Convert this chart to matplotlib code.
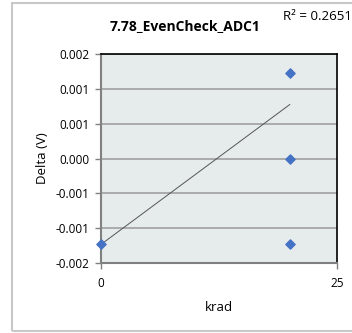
import matplotlib.pyplot as plt
from matplotlib.patches import Rectangle

plt.rcParams['font.family'] = ['Open Sans', 'DejaVu Sans']

# data
krad = [0, 20, 20, 20]
delta = [-0.00148, 0.00148, 0.0, -0.00148]
trend_x = [0, 20]
trend_y = [-0.00148, 0.00093]
r2_text = 'R² = 0.2651'
yticks = [-0.0018, -0.0012, -0.0006, 0.0, 0.0006, 0.0012, 0.0018]
ylabels = ['-0.002', '-0.001', '-0.001', '0.000', '0.001', '0.001', '0.002']
xticks = [0, 25]
xlabels = ['0', '25']

W, H = 352, 333
fig = plt.figure(figsize=(W / 100, H / 100), dpi=100)

# outer chart frame (right edge falls outside the image)
fig.patches.append(Rectangle((12 / W, 2 / H), 1.2, (H - 5) / H, transform=fig.transFigure,
                             fill=False, edgecolor='#C8C8C8', linewidth=1.5))

ax = fig.add_axes([101 / W, 1 - 263 / H, 236 / W, 209 / H])
ax.set_facecolor('#E6EBEB')

ax.plot(trend_x, trend_y, color='#555555', linewidth=0.7, zorder=2)
ax.scatter(krad, delta, marker='D', s=22, color='#4472C4', zorder=3, clip_on=False)

ax.set_xlim(0, 25)
ax.set_ylim(-0.0018, 0.0018)
ax.set_xticks(xticks)
ax.set_xticklabels(xlabels)
ax.set_yticks(yticks)
ax.set_yticklabels(ylabels)
ax.grid(axis='y', color='#A0A0A0', linewidth=1.2)
ax.set_axisbelow(True)

for side in ['left', 'bottom']:
    ax.spines[side].set_color('#808080')
    ax.spines[side].set_linewidth(1.5)
for side in ['top', 'right']:
    ax.spines[side].set_color('black')
    ax.spines[side].set_linewidth(1.2)

ax.tick_params(axis='both', direction='out', length=4, width=1, color='#808080',
               labelsize=8.5, pad=4)
ax.tick_params(axis='x', pad=6)

ax.set_xlabel('krad', fontsize=9.5, labelpad=8)
ax.set_ylabel('Delta (V)', fontsize=9.5, labelpad=5)

fig.text(185 / W, 1 - 26 / H, '7.78_EvenCheck_ADC1', ha='center', va='center',
         fontsize=10, fontweight='bold')
fig.text(283 / W, 1 - 17 / H, r2_text, ha='left', va='center', fontsize=9.5)

fig.savefig('out.png', dpi=100)
